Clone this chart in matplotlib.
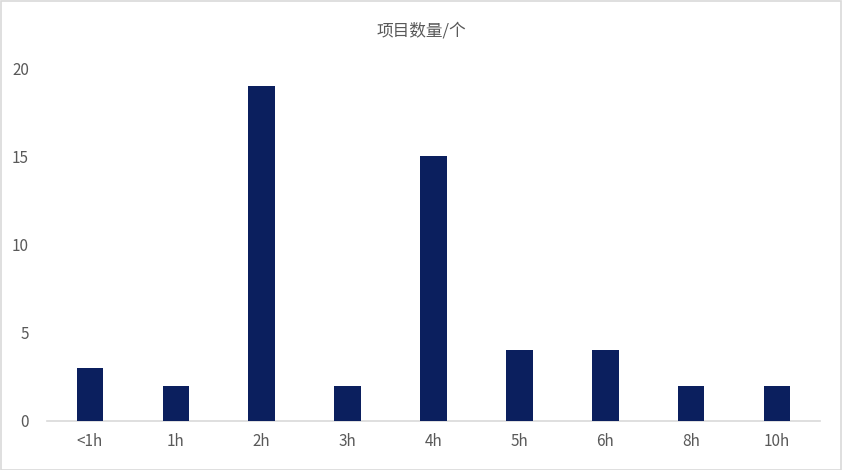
import matplotlib
matplotlib.use("Agg")
import matplotlib.pyplot as plt
from matplotlib.patches import Rectangle

plt.rcParams['font.family'] = ['Noto Sans CJK SC', 'DejaVu Sans']

categories = ["<1h", "1h", "2h", "3h", "4h", "5h", "6h", "8h", "10h"]
values = [3, 2, 19, 2, 15, 4, 4, 2, 2]
yticks = [0, 5, 10, 15, 20]
title = "项目数量/个"

fig = plt.figure(figsize=(8.43, 4.70), dpi=100)
ax = fig.add_axes([0.0558, 0.1043, 0.9169, 0.751])
x = list(range(len(categories)))
ax.bar(x, values, width=0.31, color="#0b1f5e", zorder=3)
ax.set_xlim(-0.5, len(categories) - 0.5)
ax.set_ylim(0, 20)
ax.set_yticks(yticks)
ax.set_xticks(x)
ax.set_xticklabels(categories)
for s in ["top", "right", "left"]:
    ax.spines[s].set_visible(False)
ax.spines["bottom"].set_color("#d9d9d9")
ax.spines["bottom"].set_linewidth(1.2)
ax.tick_params(axis="both", length=0, colors="#595959", labelsize=11)
ax.tick_params(axis="y", pad=13)
ax.tick_params(axis="x", pad=9)
fig.text(0.5, 0.933, title, ha="center", va="center", fontsize=12, color="#595959")

fig.patches.append(Rectangle((0.001, 0.001), 0.997, 0.997, transform=fig.transFigure,
                             fill=False, edgecolor="#d9d9d9", linewidth=1.2))
fig.savefig("out.png", dpi=100)
